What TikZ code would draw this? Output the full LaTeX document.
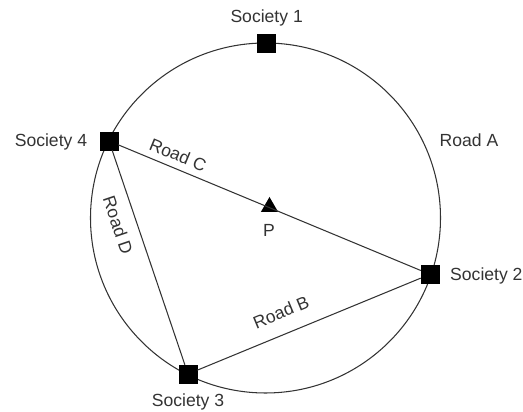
\documentclass[tikz,border=0pt]{standalone}
\usepackage{fontspec}
\setmainfont{Liberation Sans}
\usetikzlibrary{shapes.geometric}
\tikzset{
  society/.style={draw=black,fill=black,minimum size=0.54cm,inner sep=0pt},
  spot/.style={regular polygon,regular polygon sides=3,fill=black,minimum size=0.6cm,inner sep=0pt},
  road/.style={draw=black!80,line width=0.9pt},
  lbl/.style={text=black!80,font=\fontsize{15}{18}\selectfont,inner sep=0pt}
}
\begin{document}
\begin{tikzpicture}[x=1cm,y=1cm]
\useasboundingbox (0,0) rectangle (15.69,12.36);
\coordinate (c) at (7.965,5.82);
\draw[road] (c) circle (5.25);

\node[society] (s1) at (8.0,11.07) {};
\node[society] (s4) at (3.27,8.13) {};
\node[society] (s2) at (12.9,4.13) {};
\node[society] (s3) at (5.64,1.14) {};
\node[spot] (p) at (8.085,6.15) {};

\draw[road] (s4) -- (s2);
\draw[road] (s4) -- (s3);
\draw[road] (s3) -- (s2);

\node[lbl,anchor=base] (t1) at (8.0,11.67) {Society 1};
\node[lbl,anchor=base east] (t4) at (2.62,7.95) {Society 4};
\node[lbl,anchor=base west] (t2) at (13.5,3.93) {Society 2};
\node[lbl,anchor=base] (t3) at (5.64,0.15) {Society 3};
\node[lbl,anchor=base] (ta) at (14.07,7.95) {Road A};
\node[lbl,rotate=-22.5] (tc) at (5.34,7.71) {Road C};
\node[lbl,rotate=-71.3] (td) at (3.54,5.61) {Road D};
\node[lbl,rotate=22.5] (tb) at (8.43,3.0) {Road B};
\node[lbl,anchor=base] (tp) at (8.07,5.25) {P};
\end{tikzpicture}
\end{document}
